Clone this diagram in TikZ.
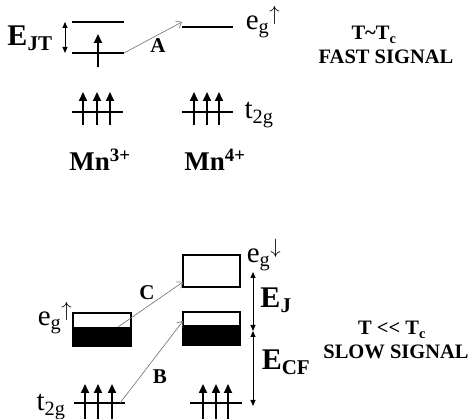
\documentclass[tikz,border=0pt]{standalone}
\usepackage{fontspec}
\setmainfont{Liberation Serif}
\usetikzlibrary{arrows.meta}
\definecolor{hopgray}{RGB}{110,110,110}

\begin{document}
\begin{tikzpicture}[x=1pt,y=-1pt,
  level/.style={line width=2.4pt},
  spin/.style={line width=2pt,-{Triangle[length=9pt,width=8pt]}},
  hop/.style={hopgray,line width=0.6pt,-{Straight Barb[length=5pt,width=8pt]}},
  gap/.style={line width=0.9pt,{Triangle[length=6pt,width=5pt]}-{Triangle[length=6pt,width=5pt]}},
  band/.style={draw,line width=1.1pt},
  big/.style={font=\fontsize{30}{30}\selectfont\bfseries},
  orb/.style={font=\fontsize{29}{29}\selectfont,inner sep=0pt},
  lbl/.style={font=\fontsize{21}{21}\selectfont\bfseries},
  note/.style={font=\fontsize{20.5}{20.5}\selectfont\bfseries,inner sep=0pt,anchor=base},
  ion/.style={font=\fontsize{27}{27}\selectfont\bfseries}
]
\useasboundingbox (0,0) rectangle (472,419);

% fast signal, T ~ Tc
\draw[level] (72,22) -- (124,22);
\draw[level] (72,53) -- (124,53);
\draw[spin] (98,67) -- (98,34);
\coordinate (jtup) at (65,22);
\coordinate (jtlo) at (65,53);
\draw[gap] (jtup) -- (jtlo);
\node[big] (EJT) at (30,38) {E\textsubscript{JT}};

\draw[level] (182,27) -- (233,27);
\coordinate (eg3) at (124,53);
\coordinate (eg4) at (182,22);
\draw[hop] (eg3) -- (eg4);
\node[lbl] (A) at (158,46) {A};
\node[orb] (egup) at (263,22) {e\textsubscript{g}$^{\uparrow}$};

\node[note] (Tc) at (374,40) {T\textasciitilde T\textsubscript{c}};
\node[note] (fast) at (386,64) {FAST SIGNAL};

\draw[level] (72,112) -- (123,112);
\draw[spin] (83,125) -- (83,92);
\draw[spin] (97,125) -- (97,92);
\draw[spin] (110,125) -- (110,92);
\draw[level] (182,112) -- (233,112);
\draw[spin] (194,125) -- (194,92);
\draw[spin] (207,125) -- (207,92);
\draw[spin] (219,125) -- (219,92);
\node[orb] (t2gtop) at (259,115) {t\textsubscript{2g}};

\node[ion] (Mn3) at (100,160) {Mn\textsuperscript{3+}};
\node[ion] (Mn4) at (215,160) {Mn\textsuperscript{4+}};

% slow signal, T << Tc
\draw[band] (73,313) rectangle (131,346);
\fill (73,327) rectangle (131,346);
\draw[band] (183,255) rectangle (240,287);
\draw[band] (183,312) rectangle (240,345);
\fill (183,325) rectangle (240,345);

\node[orb] (egL) at (55,318) {e\textsubscript{g}$^{\uparrow}$};
\node[orb] (egR) at (264,255) {e\textsubscript{g}$^{\downarrow}$};

\coordinate (gtop) at (253,272);
\coordinate (gmid) at (253,331);
\coordinate (gbot) at (253,406);
\draw[gap] (gtop) -- (gmid);
\draw[gap] (gmid) -- (gbot);
\node[big] (EJ) at (276,300) {E\textsubscript{J}};
\node[big] (ECF) at (286,362) {E\textsubscript{CF}};

\node[note] (Tll) at (392,335) {T \hbox{<}\hbox{<} T\textsubscript{c}};
\node[note] (slow) at (396,359) {SLOW SIGNAL};

\draw[level] (74,403) -- (125,403);
\draw[spin] (85,419) -- (85,384);
\draw[spin] (98,419) -- (98,384);
\draw[spin] (112,419) -- (112,384);
\draw[level] (190,403) -- (242,403);
\draw[spin] (203,419) -- (203,384);
\draw[spin] (216,419) -- (216,384);
\draw[spin] (228,419) -- (228,384);
\node[orb] (t2gbot) at (51,407) {t\textsubscript{2g}};

\coordinate (bandL) at (118,327);
\coordinate (bandRup) at (183,282);
\coordinate (t2gL) at (120,403);
\coordinate (bandRlo) at (183,321);
\draw[hop] (bandL) -- (bandRup);
\draw[hop] (t2gL) -- (bandRlo);
\node[lbl] (C) at (147,293) {C};
\node[lbl] (B) at (160,377) {B};
\end{tikzpicture}
\end{document}
